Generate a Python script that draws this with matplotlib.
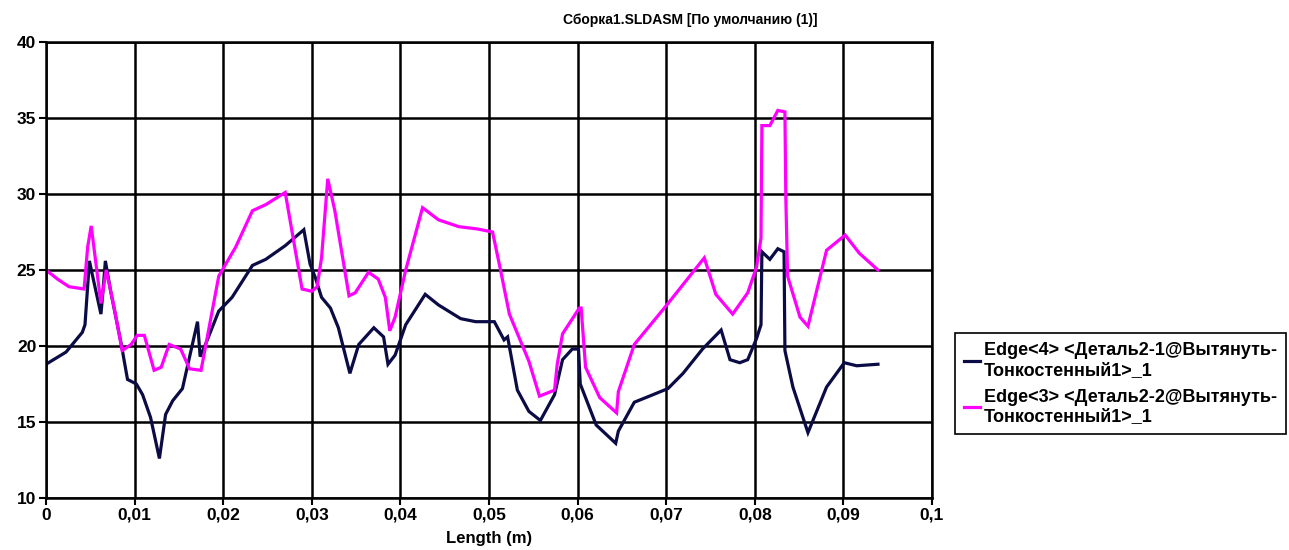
import matplotlib
matplotlib.use("Agg")
import matplotlib.pyplot as plt
from matplotlib.ticker import FuncFormatter

plt.rcParams['font.family'] = ['Liberation Sans', 'DejaVu Sans']
plt.rcParams['font.weight'] = 'bold'

# Edge<4> (dark line)
edge4_x = [0.0, 0.00226, 0.0041, 0.0044, 0.0049, 0.0053, 0.0062, 0.0064, 0.0067, 0.0073,
           0.0085, 0.0092, 0.0102, 0.0109, 0.0118, 0.0128, 0.0135, 0.0143, 0.0154, 0.0171,
           0.0174, 0.018, 0.0195, 0.021, 0.0233, 0.0248, 0.027, 0.0291, 0.0298, 0.0304,
           0.0311, 0.0321, 0.033, 0.0343, 0.0353, 0.037, 0.0381, 0.0386, 0.0394, 0.0406,
           0.0428, 0.0443, 0.0468, 0.0485, 0.0506, 0.0517, 0.0521, 0.0532, 0.0545, 0.0558,
           0.0574, 0.0583, 0.0594, 0.0601, 0.0603, 0.0621, 0.0643, 0.0646, 0.0664, 0.0681,
           0.0702, 0.0719, 0.0741, 0.0762, 0.0772, 0.0783, 0.0792, 0.0802, 0.0807, 0.0808,
           0.0817, 0.0826, 0.0833, 0.0834, 0.0843, 0.086, 0.0881, 0.0901, 0.0915, 0.0939]
edge4_y = [18.8, 19.6, 20.9, 21.4, 25.6, 24.5, 22.1, 23.4, 25.6, 23.6,
           20.1, 17.8, 17.5, 16.8, 15.3, 12.6, 15.5, 16.4, 17.2, 21.6,
           19.3, 20.1, 22.3, 23.2, 25.3, 25.7, 26.6, 27.65, 25.4, 24.5,
           23.2, 22.5, 21.2, 18.2, 20.1, 21.2, 20.6, 18.8, 19.4, 21.4,
           23.4, 22.7, 21.8, 21.6, 21.6, 20.4, 20.6, 17.1, 15.7, 15.1,
           16.8, 19.1, 19.8, 19.8, 17.5, 14.8, 13.6, 14.4, 16.3, 16.7,
           17.2, 18.2, 19.8, 21.05, 19.1, 18.9, 19.1, 20.5, 21.4, 26.2,
           25.7, 26.4, 26.2, 19.7, 17.3, 14.3, 17.3, 18.9, 18.7, 18.8]

# Edge<3> (magenta line)
edge3_x = [0.0, 0.0013, 0.0026, 0.0043, 0.0047, 0.0051, 0.0056, 0.0062, 0.0068, 0.0077,
           0.0086, 0.0096, 0.0103, 0.0111, 0.0122, 0.013, 0.0139, 0.0152, 0.0162, 0.0175,
           0.0195, 0.0214, 0.0233, 0.0248, 0.027, 0.0289, 0.030, 0.0306, 0.0311, 0.0318,
           0.0326, 0.0342, 0.0349, 0.0364, 0.0375, 0.0383, 0.0388, 0.0394, 0.0406, 0.0425,
           0.0443, 0.0466, 0.0487, 0.0504, 0.0513, 0.0523, 0.0545, 0.0557, 0.0574, 0.0577,
           0.0583, 0.0602, 0.0604, 0.0609, 0.0625, 0.0644, 0.0646, 0.0664, 0.070, 0.0743,
           0.0756, 0.0775, 0.0792, 0.0802, 0.0807, 0.0808, 0.0817, 0.0826, 0.0834, 0.0835,
           0.0837, 0.0851, 0.086, 0.0881, 0.0902, 0.0918, 0.0939]
edge3_y = [25.0, 24.4, 23.9, 23.75, 26.5, 27.9, 25.6, 22.8, 25.0, 22.5,
           19.7, 20.1, 20.7, 20.7, 18.4, 18.6, 20.1, 19.8, 18.5, 18.4,
           24.6, 26.5, 28.9, 29.3, 30.1, 23.75, 23.6, 23.9, 25.8, 31.0,
           28.9, 23.3, 23.5, 24.85, 24.4, 23.2, 21.0, 21.9, 25.0, 29.1,
           28.3, 27.85, 27.7, 27.5, 25.0, 22.1, 19.0, 16.7, 17.1, 18.8,
           20.8, 22.5, 22.5, 18.6, 16.6, 15.6, 17.0, 20.1, 22.65, 25.8,
           23.4, 22.1, 23.5, 25.2, 27.1, 34.5, 34.5, 35.5, 35.4, 29.8,
           24.6, 21.9, 21.3, 26.3, 27.3, 26.1, 25.0]

label4 = "Edge<4> <Деталь2-1@Вытянуть-\nТонкостенный1>_1"
label3 = "Edge<3> <Деталь2-2@Вытянуть-\nТонкостенный1>_1"
title = "Сборка1.SLDASM [По умолчанию (1)]"

fig = plt.figure(figsize=(12.89, 5.5), dpi=100)
ax = fig.add_axes([46 / 1289, 1 - 498 / 550, (932 - 46) / 1289, (498 - 42) / 550])

ax.plot(edge4_x, edge4_y, color='#0b0b45', lw=2.3, label=label4, solid_joinstyle='miter')
ax.plot(edge3_x, edge3_y, color='#ff00ff', lw=2.3, label=label3, solid_joinstyle='miter')

ax.set_xlim(0, 0.1)
ax.set_ylim(10, 40)
ax.set_xticks([i / 100 for i in range(11)])
ax.set_yticks(range(10, 41, 5))
ax.xaxis.set_major_formatter(FuncFormatter(lambda v, p: ('%g' % round(v, 2)).replace('.', ',')))
ax.grid(True, color='black', lw=1.8)
ax.set_axisbelow(True)
for s in ax.spines.values():
    s.set_color('black')
    s.set_linewidth(1.8)
ax.tick_params(axis='both', labelsize=12.5, width=1.5, length=5, color='black', pad=2)
ax.set_xlabel("Length (m)", fontsize=12, fontweight='bold', labelpad=6)

fig.text(690 / 1289, 1 - 20 / 550, title, ha='center', va='center', fontsize=10, fontweight='bold')

leg = fig.legend(loc='upper left', bbox_to_anchor=(955 / 1289, 1 - 333 / 550),
                 fontsize=13, frameon=True, fancybox=False, framealpha=1, handlelength=0.9,
                 handletextpad=0.2, borderpad=0.5, labelspacing=0.55, borderaxespad=0)
leg.get_frame().set_edgecolor('black')
leg.get_frame().set_linewidth(1.2)
for t in leg.get_texts():
    t.set_linespacing(1.2)

fig.savefig("out.png", dpi=100)
